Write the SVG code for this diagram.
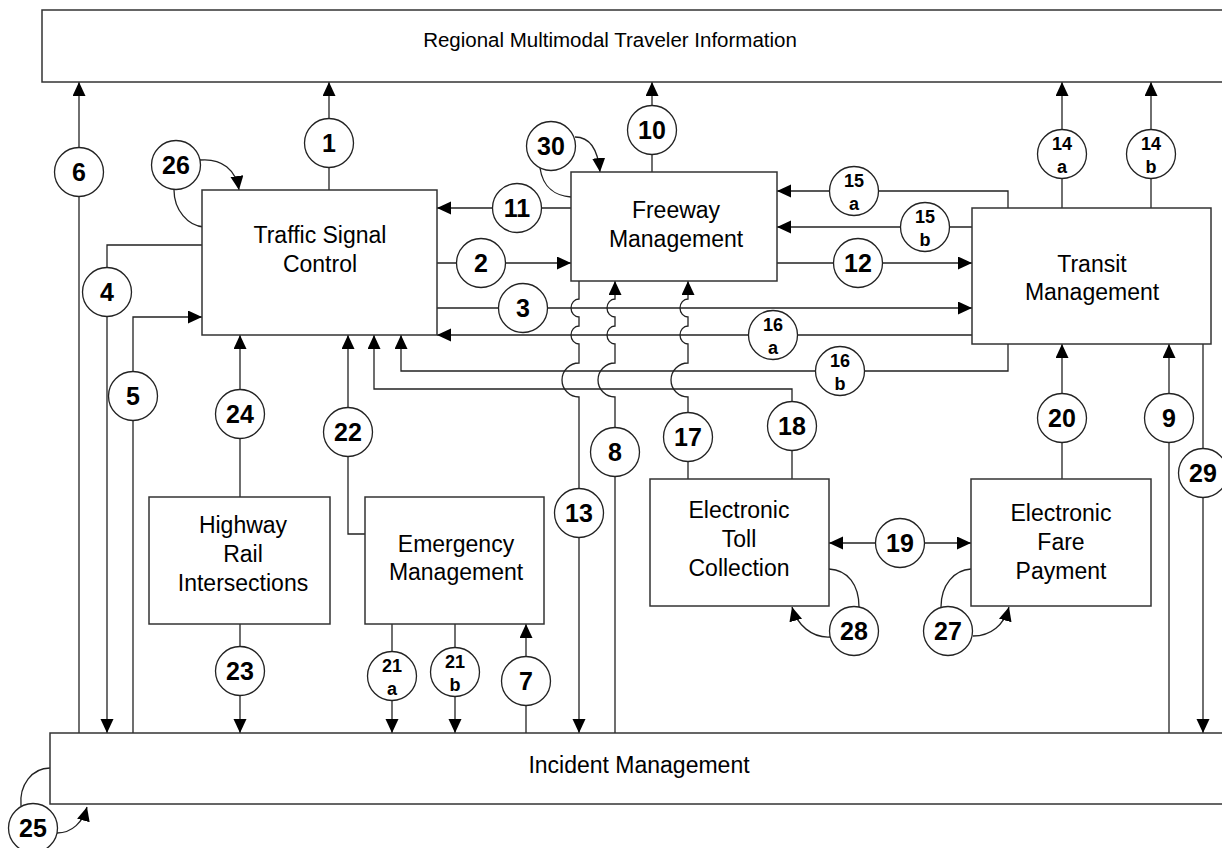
<svg xmlns="http://www.w3.org/2000/svg" width="1222" height="848" viewBox="0 0 1222 848">
<defs>
<marker id="ah" markerUnits="userSpaceOnUse" markerWidth="14" markerHeight="14" refX="14" refY="6.5" orient="auto-start-reverse">
<path d="M0,0 L14,6.5 L0,13 z" fill="#000"/>
</marker>
<style>
.box{fill:#fff;stroke:#333;stroke-width:1.5}
.lbl{font-family:"Liberation Sans",Arial,sans-serif;font-size:23px;fill:#000;text-anchor:middle}
.big{font-size:20.5px}
.ln{fill:none;stroke:#222;stroke-width:1.3}
.arr{marker-end:url(#ah)}
.cir{fill:#fff;stroke:#222;stroke-width:1.3}
.num{font-family:"Liberation Sans",Arial,sans-serif;font-weight:bold;font-size:25px;fill:#000;text-anchor:middle}
.sm{font-family:"Liberation Sans",Arial,sans-serif;font-weight:bold;font-size:18px;fill:#000;text-anchor:middle}
</style>
</defs>
<rect width="1222" height="848" fill="#fff"/>

<g id="connectors">
<path class="ln arr" d="M329,190 V82"/>
<path class="ln arr" d="M79,733 V82"/>
<path class="ln arr" d="M202,245 H107 V733"/>
<path class="ln arr" d="M133,733 V317 H202"/>
<path class="ln arr" d="M240,497 V335"/>
<path class="ln arr" d="M365,534 H348 V335"/>
<path class="ln arr" d="M240,624 V733"/>
<path class="ln arr" d="M392,624 V733"/>
<path class="ln arr" d="M455,624 V733"/>
<path class="ln arr" d="M526,733 V624"/>
<path class="ln arr" d="M437,263 H571"/>
<path class="ln arr" d="M571,208 H437"/>
<path class="ln arr" d="M437,308 H972"/>
<path class="ln arr" d="M972,335 H437"/>
<path class="ln arr" d="M1008,344 V371 H401 V335"/>
<path class="ln arr" d="M792,479 V389 H374 V335"/>
<path class="ln arr" d="M652,172 V82"/>
<path class="ln arr" d="M1008,208 V191 H777"/>
<path class="ln arr" d="M972,227 H777"/>
<path class="ln arr" d="M777,263 H972"/>
<path class="ln arr" d="M1062,208 V82"/>
<path class="ln arr" d="M1151,208 V82"/>
<path class="ln arr" d="M1062,479 V344"/>
<path class="ln arr" d="M1169,733 V344"/>
<path class="ln arr" d="M1203,344 V733"/>
<path class="ln arr" d="M829,543 H971" marker-start="url(#ah)"/>
<path class="ln arr" d="M579,281 V299 A8,9 0 0 0 579,317 V326 A8,9 0 0 0 579,344 V363 A17,17 0 0 0 579,397 V733"/>
<path class="ln arr" d="M615,733 V397 A17,17 0 0 1 615,363 V344 A8,9 0 0 1 615,326 V317 A8,9 0 0 1 615,299 V281"/>
<path class="ln arr" d="M688,479 V397 A17,17 0 0 1 688,363 V344 A8,9 0 0 1 688,326 V317 A8,9 0 0 1 688,299 V281"/>
<path class="ln" d="M174,190 C174,210 188,226 204,227"/>
<path class="ln arr" d="M200,160 C222,158 236,170 239,190"/>
<path class="ln" d="M540,168 C543,188 556,196 571,197"/>
<path class="ln arr" d="M575,137 C590,137 598,150 600,172"/>
<path class="ln" d="M859,607 C859,585 848,570 829,569"/>
<path class="ln arr" d="M830,637 C812,638 797,625 792,607"/>
<path class="ln" d="M941,607 C941,585 954,570 971,569"/>
<path class="ln arr" d="M973,636 C991,636 1004,625 1009,607"/>
<path class="ln" d="M21,806 C19,785 32,768 50,768"/>
<path class="ln arr" d="M57,833 C72,833 83,822 87,807"/>
</g>

<g id="connector-labels">
<circle class="cir" cx="329" cy="143" r="24.5"/><text class="num" x="329" y="152">1</text>
<circle class="cir" cx="481" cy="263" r="24.5"/><text class="num" x="481" y="272">2</text>
<circle class="cir" cx="523" cy="308" r="24.5"/><text class="num" x="523" y="317">3</text>
<circle class="cir" cx="107" cy="292" r="24.5"/><text class="num" x="107" y="301">4</text>
<circle class="cir" cx="133" cy="396" r="24.5"/><text class="num" x="133" y="405">5</text>
<circle class="cir" cx="79" cy="172" r="24.5"/><text class="num" x="79" y="181">6</text>
<circle class="cir" cx="526" cy="681" r="24.5"/><text class="num" x="526" y="690">7</text>
<circle class="cir" cx="615" cy="452" r="24.5"/><text class="num" x="615" y="461">8</text>
<circle class="cir" cx="1169" cy="418" r="24.5"/><text class="num" x="1169" y="427">9</text>
<circle class="cir" cx="652" cy="130" r="24.5"/><text class="num" x="652" y="139">10</text>
<circle class="cir" cx="517" cy="208" r="24.5"/><text class="num" x="517" y="217">11</text>
<circle class="cir" cx="858" cy="263" r="24.5"/><text class="num" x="858" y="272">12</text>
<circle class="cir" cx="579" cy="513" r="24.5"/><text class="num" x="579" y="522">13</text>
<circle class="cir" cx="1062" cy="154" r="24.5"/><text class="sm" x="1062" y="150">14</text><text class="sm" x="1062" y="173">a</text>
<circle class="cir" cx="1151" cy="154" r="24.5"/><text class="sm" x="1151" y="150">14</text><text class="sm" x="1151" y="173">b</text>
<circle class="cir" cx="854" cy="191" r="24.5"/><text class="sm" x="854" y="187">15</text><text class="sm" x="854" y="210">a</text>
<circle class="cir" cx="925" cy="227" r="24.5"/><text class="sm" x="925" y="223">15</text><text class="sm" x="925" y="246">b</text>
<circle class="cir" cx="773" cy="335" r="24.5"/><text class="sm" x="773" y="331">16</text><text class="sm" x="773" y="354">a</text>
<circle class="cir" cx="840" cy="371" r="24.5"/><text class="sm" x="840" y="367">16</text><text class="sm" x="840" y="390">b</text>
<circle class="cir" cx="688" cy="437" r="24.5"/><text class="num" x="688" y="446">17</text>
<circle class="cir" cx="792" cy="426" r="24.5"/><text class="num" x="792" y="435">18</text>
<circle class="cir" cx="900" cy="543" r="24.5"/><text class="num" x="900" y="552">19</text>
<circle class="cir" cx="1062" cy="418" r="24.5"/><text class="num" x="1062" y="427">20</text>
<circle class="cir" cx="392" cy="676" r="24.5"/><text class="sm" x="392" y="672">21</text><text class="sm" x="392" y="695">a</text>
<circle class="cir" cx="455" cy="672" r="24.5"/><text class="sm" x="455" y="668">21</text><text class="sm" x="455" y="691">b</text>
<circle class="cir" cx="348" cy="432" r="24.5"/><text class="num" x="348" y="441">22</text>
<circle class="cir" cx="240" cy="671" r="24.5"/><text class="num" x="240" y="680">23</text>
<circle class="cir" cx="240" cy="414" r="24.5"/><text class="num" x="240" y="423">24</text>
<circle class="cir" cx="33" cy="828" r="24.5"/><text class="num" x="33" y="837">25</text>
<circle class="cir" cx="176" cy="165" r="24.5"/><text class="num" x="176" y="174">26</text>
<circle class="cir" cx="948" cy="631" r="24.5"/><text class="num" x="948" y="640">27</text>
<circle class="cir" cx="854" cy="631" r="24.5"/><text class="num" x="854" y="640">28</text>
<circle class="cir" cx="1203" cy="473" r="24.5"/><text class="num" x="1203" y="482">29</text>
<circle class="cir" cx="551" cy="146" r="24.5"/><text class="num" x="551" y="155">30</text>
</g>

<g id="regional">
<rect class="box" x="42" y="10" width="1200" height="72"/>
<text class="lbl big" x="610" y="47">Regional Multimodal Traveler Information</text>
</g>
<g id="incident">
<rect class="box" x="50" y="733" width="1200" height="71"/>
<text class="lbl" x="639" y="773">Incident Management</text>
</g>
<g id="traffic-signal">
<rect class="box" x="202" y="190" width="235" height="145"/>
<text class="lbl" x="320" y="243">Traffic Signal</text>
<text class="lbl" x="320" y="272">Control</text>
</g>
<g id="freeway">
<rect class="box" x="571" y="172" width="206" height="109"/>
<text class="lbl" x="676" y="218">Freeway</text>
<text class="lbl" x="676" y="247">Management</text>
</g>
<g id="transit">
<rect class="box" x="972" y="208" width="239" height="136"/>
<text class="lbl" x="1092" y="272">Transit</text>
<text class="lbl" x="1092" y="300">Management</text>
</g>
<g id="highway-rail">
<rect class="box" x="149" y="497" width="181" height="127"/>
<text class="lbl" x="243" y="533">Highway</text>
<text class="lbl" x="243" y="562">Rail</text>
<text class="lbl" x="243" y="591">Intersections</text>
</g>
<g id="emergency">
<rect class="box" x="365" y="497" width="179" height="127"/>
<text class="lbl" x="456" y="552">Emergency</text>
<text class="lbl" x="456" y="580">Management</text>
</g>
<g id="toll">
<rect class="box" x="650" y="479" width="179" height="127"/>
<text class="lbl" x="739" y="518">Electronic</text>
<text class="lbl" x="739" y="547">Toll</text>
<text class="lbl" x="739" y="576">Collection</text>
</g>
<g id="fare">
<rect class="box" x="971" y="479" width="180" height="127"/>
<text class="lbl" x="1061" y="521">Electronic</text>
<text class="lbl" x="1061" y="550">Fare</text>
<text class="lbl" x="1061" y="579">Payment</text>
</g>
</svg>
